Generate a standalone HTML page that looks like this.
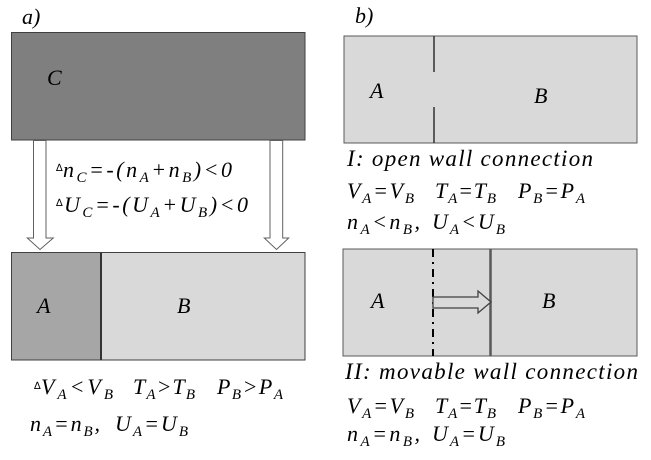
<!DOCTYPE html>
<html><head><meta charset="utf-8"><style>
html,body{margin:0;padding:0;background:#fff;}
svg{display:block;}
text{font-family:"Liberation Serif",serif;font-style:italic;font-size:22px;fill:#000;}
.s{font-size:15px;}
.h{font-size:23px;}
.d{font-size:10px;font-style:normal;font-family:"DejaVu Sans",sans-serif;}
.lbl{font-size:22px;}
</style></head><body>
<svg width="651" height="460" viewBox="0 0 651 460" xmlns="http://www.w3.org/2000/svg">
<!-- panel a -->
<text class="lbl" x="22" y="24">a)</text>
<rect x="11.5" y="32.5" width="293.5" height="107.5" fill="#7f7f7f" stroke="#404040" stroke-width="1"/>
<text x="47" y="85">C</text>

<!-- down arrows -->
<polygon points="33.5,140.5 46,140.5 46,238 53.3,238 40,249.5 27.3,238 33.5,238" fill="#fff" stroke="#606060" stroke-width="1"/>
<polygon points="270,140.5 282.7,140.5 282.7,238 288.7,238 276.5,249.5 264.3,238 270,238" fill="#fff" stroke="#606060" stroke-width="1"/>

<text class="d" x="56" y="171">∆</text>
<text x="63" y="177" textLength="169" lengthAdjust="spacing">n<tspan class="s" dy="5">C</tspan><tspan dy="-5">=-(n</tspan><tspan class="s" dy="5">A</tspan><tspan dy="-5">+n</tspan><tspan class="s" dy="5">B</tspan><tspan dy="-5">)&lt;0</tspan></text>
<text class="d" x="56" y="206">∆</text>
<text x="64" y="212" textLength="184" lengthAdjust="spacing">U<tspan class="s" dy="5">C</tspan><tspan dy="-5">=-(U</tspan><tspan class="s" dy="5">A</tspan><tspan dy="-5">+U</tspan><tspan class="s" dy="5">B</tspan><tspan dy="-5">)&lt;0</tspan></text>

<!-- bottom-left box -->
<rect x="11.5" y="252.5" width="89.5" height="107.5" fill="#a6a6a6"/>
<rect x="101" y="252.5" width="204" height="107.5" fill="#d9d9d9"/>
<rect x="11.5" y="252.5" width="293.5" height="107.5" fill="none" stroke="#404040" stroke-width="1"/>
<line x1="101" y1="252.5" x2="101" y2="360" stroke="#333" stroke-width="2"/>
<text x="37" y="313">A</text>
<text x="177" y="313">B</text>

<text class="d" x="34" y="389">∆</text>
<text x="41" y="394" textLength="72" lengthAdjust="spacing">V<tspan class="s" dy="5">A</tspan><tspan dy="-5">&lt;V</tspan><tspan class="s" dy="5">B</tspan></text>
<text x="133" y="394" textLength="62" lengthAdjust="spacing">T<tspan class="s" dy="5">A</tspan><tspan dy="-5">&gt;T</tspan><tspan class="s" dy="5">B</tspan></text>
<text x="217" y="394" textLength="66" lengthAdjust="spacing">P<tspan class="s" dy="5">B</tspan><tspan dy="-5">&gt;P</tspan><tspan class="s" dy="5">A</tspan></text>
<text x="30" y="431" textLength="70" lengthAdjust="spacing">n<tspan class="s" dy="5">A</tspan><tspan dy="-5">=n</tspan><tspan class="s" dy="5">B</tspan><tspan dy="-5">,</tspan></text>
<text x="115" y="431" textLength="73" lengthAdjust="spacing">U<tspan class="s" dy="5">A</tspan><tspan dy="-5">=U</tspan><tspan class="s" dy="5">B</tspan></text>

<!-- panel b -->
<text class="lbl" x="355" y="23">b)</text>
<rect x="344" y="36" width="293" height="107" fill="#d9d9d9" stroke="#595959" stroke-width="1"/>
<line x1="434" y1="36" x2="434" y2="72" stroke="#333" stroke-width="1.5"/>
<line x1="434" y1="107" x2="434" y2="143" stroke="#333" stroke-width="1.5"/>
<text x="370" y="98">A</text>
<text x="534" y="103">B</text>

<text class="h" x="347" y="166" textLength="246" lengthAdjust="spacing">I: open wall connection</text>
<text x="347" y="198" textLength="67" lengthAdjust="spacing">V<tspan class="s" dy="5">A</tspan><tspan dy="-5">=V</tspan><tspan class="s" dy="5">B</tspan></text>
<text x="435" y="198" textLength="61" lengthAdjust="spacing">T<tspan class="s" dy="5">A</tspan><tspan dy="-5">=T</tspan><tspan class="s" dy="5">B</tspan></text>
<text x="518" y="198" textLength="67" lengthAdjust="spacing">P<tspan class="s" dy="5">B</tspan><tspan dy="-5">=P</tspan><tspan class="s" dy="5">A</tspan></text>
<text x="347" y="229" textLength="73" lengthAdjust="spacing">n<tspan class="s" dy="5">A</tspan><tspan dy="-5">&lt;n</tspan><tspan class="s" dy="5">B</tspan><tspan dy="-5">,</tspan></text>
<text x="432" y="229" textLength="73" lengthAdjust="spacing">U<tspan class="s" dy="5">A</tspan><tspan dy="-5">&lt;U</tspan><tspan class="s" dy="5">B</tspan></text>

<!-- bottom-right box -->
<rect x="343" y="249" width="294" height="107" fill="#d9d9d9" stroke="#595959" stroke-width="1"/>
<line x1="433" y1="249" x2="433" y2="356" stroke="#000" stroke-width="2" stroke-dasharray="8,5,2,5"/>
<line x1="490.5" y1="249" x2="490.5" y2="356" stroke="#595959" stroke-width="2.5"/>
<polygon points="433,297 478,297 478,291 491,302 478,313 478,308 433,308" fill="#d9d9d9" stroke="#404040" stroke-width="1.3"/>
<text x="371" y="308">A</text>
<text x="542" y="308">B</text>

<text class="h" x="345" y="379" textLength="293" lengthAdjust="spacing">II: movable wall connection</text>
<text x="347" y="413" textLength="67" lengthAdjust="spacing">V<tspan class="s" dy="5">A</tspan><tspan dy="-5">=V</tspan><tspan class="s" dy="5">B</tspan></text>
<text x="435" y="413" textLength="61" lengthAdjust="spacing">T<tspan class="s" dy="5">A</tspan><tspan dy="-5">=T</tspan><tspan class="s" dy="5">B</tspan></text>
<text x="518" y="413" textLength="67" lengthAdjust="spacing">P<tspan class="s" dy="5">B</tspan><tspan dy="-5">=P</tspan><tspan class="s" dy="5">A</tspan></text>
<text x="347" y="441" textLength="73" lengthAdjust="spacing">n<tspan class="s" dy="5">A</tspan><tspan dy="-5">=n</tspan><tspan class="s" dy="5">B</tspan><tspan dy="-5">,</tspan></text>
<text x="432" y="441" textLength="73" lengthAdjust="spacing">U<tspan class="s" dy="5">A</tspan><tspan dy="-5">=U</tspan><tspan class="s" dy="5">B</tspan></text>
</svg>
</body></html>
